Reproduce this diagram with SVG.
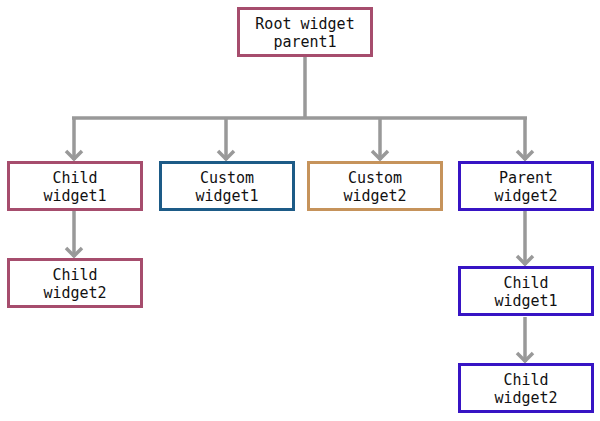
<svg xmlns="http://www.w3.org/2000/svg" width="600" height="421" viewBox="0 0 600 421">
<defs>
<marker id="chev" markerUnits="userSpaceOnUse" markerWidth="14" markerHeight="22" viewBox="-12 -11 14 22" refX="0" refY="0" orient="auto">
<path d="M-9,-8 L-1,0 L-9,8" fill="none" stroke="#999999" stroke-width="3.5"/>
</marker>
<style>
.box{fill:#ffffff;stroke-width:3}
.pink{stroke:#a64d6d}
.blue{stroke:#1d5b87}
.tan{stroke:#c6935b}
.purple{stroke:#3714c4}
.lbl{font-family:"DejaVu Sans Mono","Liberation Mono",monospace;font-size:15px;fill:#111111;text-anchor:middle}
.conn{fill:none;stroke:#999999;stroke-width:3.5}
</style>
</defs>
<rect width="600" height="421" fill="#ffffff"/>
<g id="connectors">
<path class="conn" d="M305,56 V118"/>
<path class="conn" d="M72,118 H527"/>
<path class="conn" d="M74,118 V160" marker-end="url(#chev)"/>
<path class="conn" d="M226,118 V160" marker-end="url(#chev)"/>
<path class="conn" d="M380,118 V160" marker-end="url(#chev)"/>
<path class="conn" d="M525,118 V160" marker-end="url(#chev)"/>
<path class="conn" d="M74,211 V257" marker-end="url(#chev)"/>
<path class="conn" d="M525,211 V265" marker-end="url(#chev)"/>
<path class="conn" d="M525,317 V362" marker-end="url(#chev)"/>
</g>
<g id="root">
<rect class="box pink" x="238.5" y="8.5" width="133" height="47"/>
<text class="lbl" x="305" y="29">Root widget</text>
<text class="lbl" x="305" y="47">parent1</text>
</g>
<g id="child1">
<rect class="box pink" x="8.5" y="162.5" width="133" height="47"/>
<text class="lbl" x="75" y="183">Child</text>
<text class="lbl" x="75" y="201">widget1</text>
</g>
<g id="custom1">
<rect class="box blue" x="160.5" y="162.5" width="133" height="47"/>
<text class="lbl" x="227" y="183">Custom</text>
<text class="lbl" x="227" y="201">widget1</text>
</g>
<g id="custom2">
<rect class="box tan" x="308.5" y="162.5" width="133" height="47"/>
<text class="lbl" x="375" y="183">Custom</text>
<text class="lbl" x="375" y="201">widget2</text>
</g>
<g id="parent2">
<rect class="box purple" x="459.5" y="162.5" width="133" height="47"/>
<text class="lbl" x="526" y="183">Parent</text>
<text class="lbl" x="526" y="201">widget2</text>
</g>
<g id="child2">
<rect class="box pink" x="8.5" y="259.5" width="133" height="47"/>
<text class="lbl" x="75" y="280">Child</text>
<text class="lbl" x="75" y="298">widget2</text>
</g>
<g id="pchild1">
<rect class="box purple" x="459.5" y="267.5" width="133" height="47"/>
<text class="lbl" x="526" y="288">Child</text>
<text class="lbl" x="526" y="306">widget1</text>
</g>
<g id="pchild2">
<rect class="box purple" x="459.5" y="364.5" width="133" height="47"/>
<text class="lbl" x="526" y="385">Child</text>
<text class="lbl" x="526" y="403">widget2</text>
</g>
</svg>
